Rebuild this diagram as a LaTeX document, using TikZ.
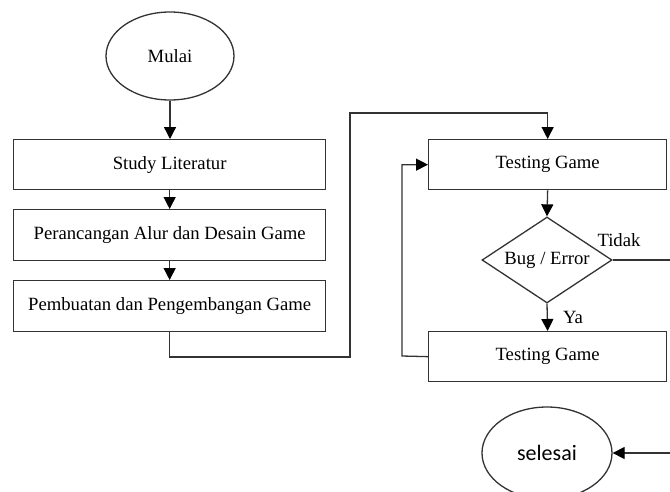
\documentclass[tikz,border=0pt]{standalone}
\usepackage{fontspec}
\setmainfont{Liberation Serif}
\newfontfamily\calib{Carlito}
\usetikzlibrary{arrows.meta,shapes.geometric}
\begin{document}
\begin{tikzpicture}[x=1pt,y=-1pt,
  every node/.style={font=\fontsize{18.7}{22}\selectfont},
  ln/.style={draw=black!80,line width=1.3pt},
  arr/.style={ln,-{Triangle[length=12pt,width=12pt,fill=black,color=black]}},
  procbox/.style={ln,fill=white,rectangle,inner sep=0pt,anchor=north west},
  term/.style={ln,fill=white,ellipse,inner sep=0pt},
  decide/.style={ln,fill=white,diamond,inner sep=0pt}]
\clip (0,0) rectangle (670,491);
\fill[white] (0,0) rectangle (670,491);
% left column
\node[term,minimum width=128pt,minimum height=88pt] (mulai) at (170,56) {Mulai};
\node[procbox,minimum width=312pt,minimum height=50pt] (b1) at (13,139) {};
\node at (b1.center) {Study Literatur};
\node[procbox,minimum width=312pt,minimum height=51pt] (b2) at (13,209) {};
\node at (b2.center) {Perancangan Alur dan Desain Game};
\node[procbox,minimum width=312pt,minimum height=51pt] (b3) at (13,280) {};
\node at (b3.center) {Pembuatan dan Pengembangan Game};
% right column
\node[procbox,minimum width=238pt,minimum height=50pt] (t1) at (428,139) {};
\node at (t1.center) {Testing Game};
\node[decide,minimum width=130pt,minimum height=86pt] (d) at (547,260) {};
\node at (d.center) {Bug / Error};
\node[procbox,minimum width=238pt,minimum height=50pt] (t2) at (428,331) {};
\node at (t2.center) {Testing Game};
\node[term,minimum width=130pt,minimum height=92pt] (sel) at (547,453) {\calib\fontsize{22}{26}\selectfont selesai};
\node (tidak) at (619,240) {Tidak};
\node (ya) at (573,317) {Ya};
\coordinate (c1) at (350,357);
\coordinate (c2) at (350,113);
\coordinate (fb) at (402,356);
\coordinate (r1) at (690,260);
\coordinate (r2) at (690,453);
% connectors
\draw[arr] (mulai.south) -- (b1.north -| mulai.south);
\draw[arr] (b1.south) -- (b2.north);
\draw[arr] (b2.south) -- (b3.north);
\draw[arr] (b3.south) |- (c1) -- (c2) -| (t1.north);
\draw[arr] (t1.south) -- (d.north);
\draw[arr] (d.south) -- (t2.north);
\draw[arr] (t2.west) -- (fb) |- (t1.west);
\draw[ln] (d.east) -- (r1) -- (r2);
\draw[arr] (r2) -- (sel.east);
\end{tikzpicture}
\end{document}
